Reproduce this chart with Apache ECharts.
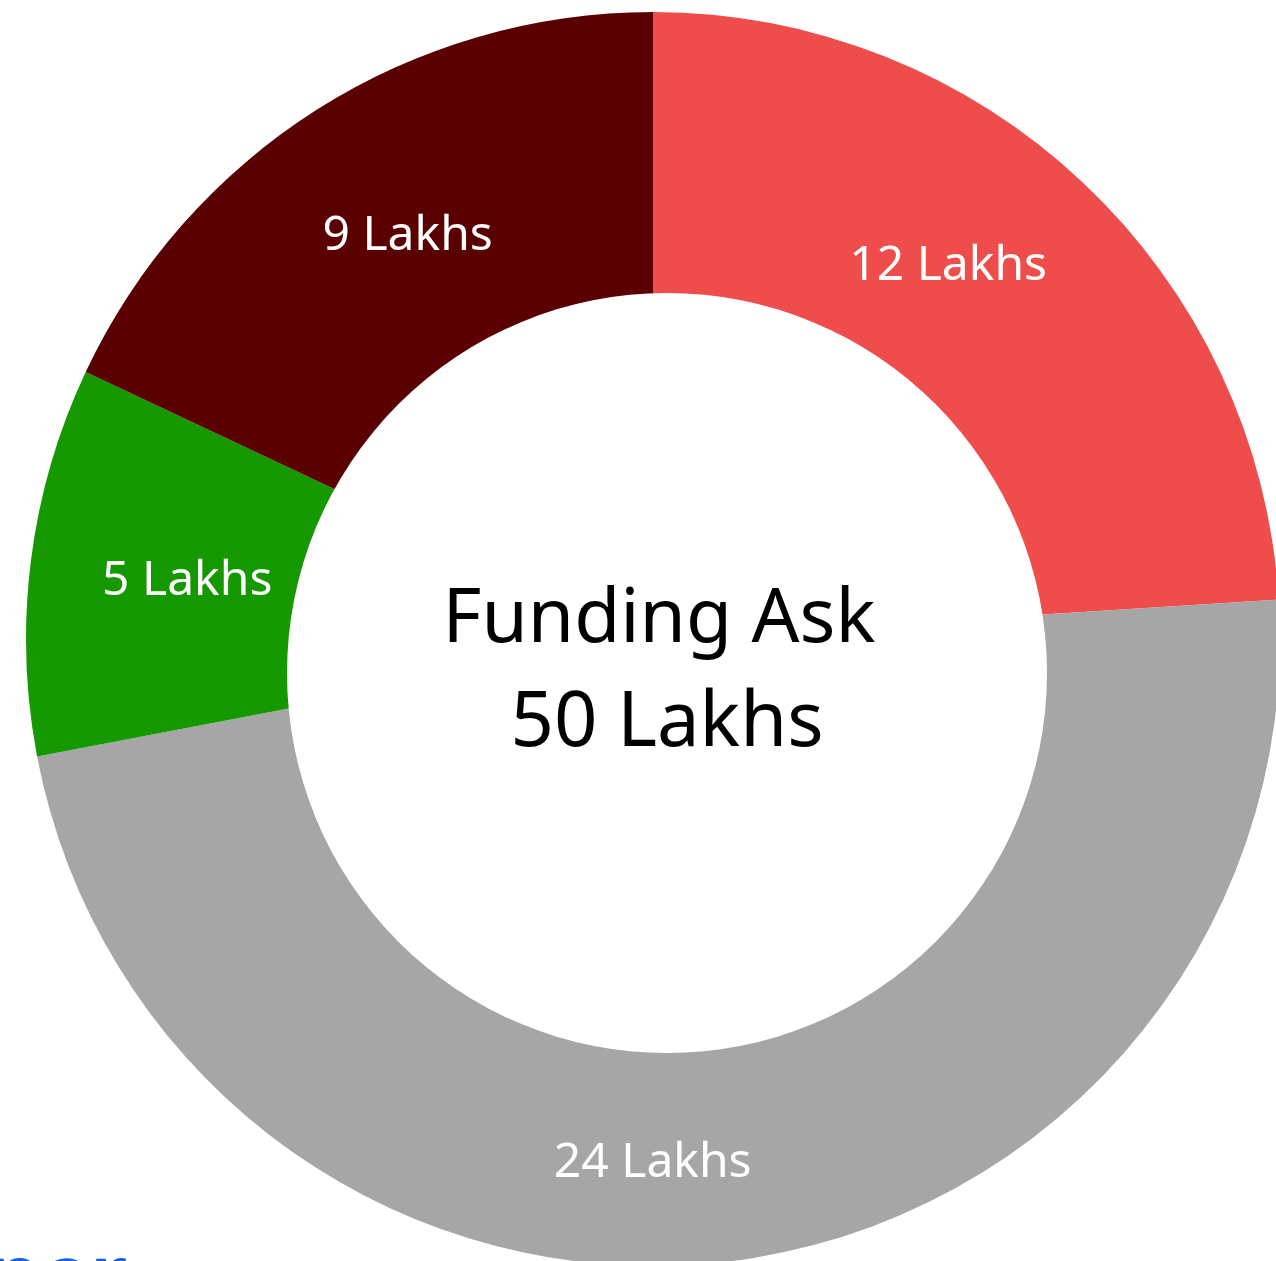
<!DOCTYPE html>
<html>
<head>
<meta charset="utf-8">
<script src="https://cdn.jsdelivr.net/npm/echarts@6/dist/echarts.min.js"></script>
<style>
  html, body { margin: 0; padding: 0; background: #fff; }
  #chart { width: 1276px; height: 1261px; }
</style>
</head>
<body>
<div id="chart"></div>
<script>
// funding split, in lakhs, clockwise from 12 o'clock
const labels = ['12 Lakhs', '24 Lakhs', '5 Lakhs', '9 Lakhs'];
const amounts = [12, 24, 5, 9];
const colors = ['#EF4C4C', '#A6A6A6', '#159800', '#5B0000'];
const centerLines = ['Funding Ask', '50 Lakhs'];

// small nudges so labels sit where the reference puts them
const labelOffsets = [[-31, -25], [-60, 52], [7, 2], [10, 0]];

const font = '"Noto Sans", "Open Sans", sans-serif';

const chart = echarts.init(document.getElementById('chart'), null, { renderer: 'canvas' });

chart.setOption({
  backgroundColor: '#ffffff',
  animation: false,
  series: [{
    type: 'pie',
    center: [653, 639],
    radius: [320, 627],
    startAngle: 90,
    clockwise: true,
    silent: true,
    itemStyle: { borderWidth: 0 },
    label: {
      show: true,
      position: 'inside',
      color: '#ffffff',
      fontFamily: font,
      fontSize: 48,
      formatter: p => p.name
    },
    labelLine: { show: false },
    data: amounts.map((v, i) => ({
      name: labels[i],
      value: v,
      itemStyle: { color: colors[i] },
      label: { offset: labelOffsets[i] }
    }))
  }],
  graphic: [
    // the hole is a separate white disc, a little off the pie's centre
    { type: 'circle', z: 100, shape: { cx: 667, cy: 673, r: 380 }, style: { fill: '#ffffff' } },
    {
      type: 'text', z: 101, x: 659, y: 621,
      style: { text: centerLines[0], fill: '#000', font: '75px ' + font, align: 'center', verticalAlign: 'middle' }
    },
    {
      type: 'text', z: 101, x: 667, y: 724,
      style: { text: centerLines[1], fill: '#000', font: '76px ' + font, align: 'center', verticalAlign: 'middle' }
    },
    // cropped bit of a blue logo word at the bottom-left edge
    {
      type: 'text', z: 101, x: -12, y: 1240,
      style: { text: 'ner', fill: '#1560E0', font: 'bold 82px ' + font, align: 'left', verticalAlign: 'top' }
    }
  ]
});
</script>
</body>
</html>
